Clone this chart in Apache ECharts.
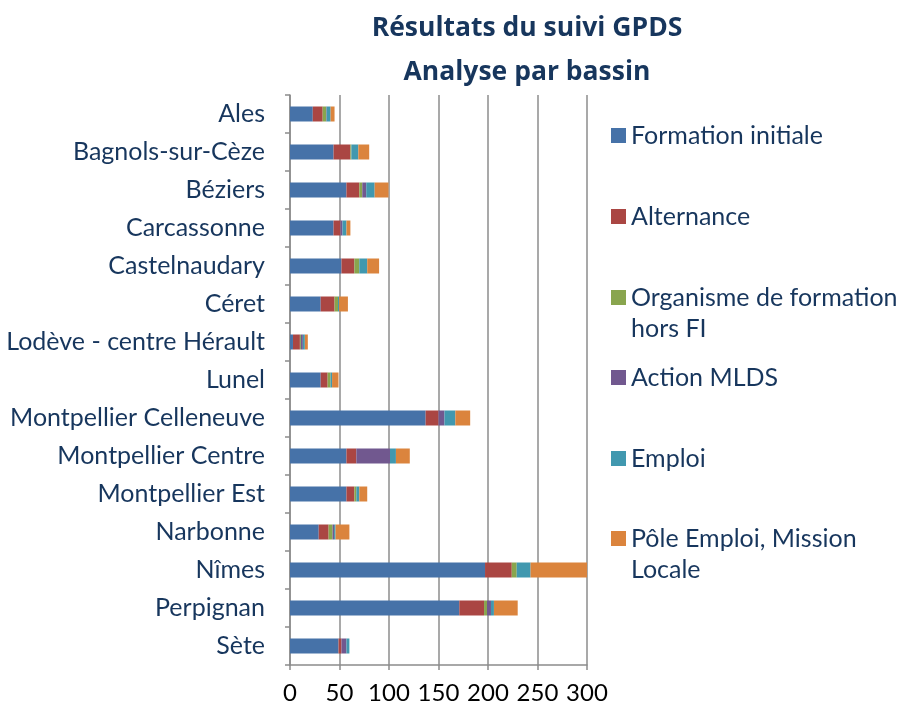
<!DOCTYPE html>
<html>
<head>
<meta charset="utf-8">
<script src="https://cdn.jsdelivr.net/npm/echarts@6/dist/echarts.min.js"></script>
<style>
html, body { margin: 0; padding: 0; background: #fff; }
#chart { width: 901px; height: 708px; }
</style>
</head>
<body>
<div id="chart"></div>
<script>
// bassins, top to bottom
var categories = ['Ales', 'Bagnols-sur-Cèze', 'Béziers', 'Carcassonne', 'Castelnaudary', 'Céret',
  'Lodève - centre Hérault', 'Lunel', 'Montpellier Celleneuve', 'Montpellier Centre',
  'Montpellier Est', 'Narbonne', 'Nîmes', 'Perpignan', 'Sète'];

var formationInitiale = [23, 44, 57, 44, 52, 31, 3, 31, 137, 57, 57, 29, 197, 171, 49];
var alternance        = [10, 17, 13, 7, 13, 14, 7, 7, 13, 10, 8, 10, 27, 25, 3];
var organismeHorsFI   = [3.5, 1, 3, 0, 5, 3.5, 1, 3, 0, 0, 2, 4, 5, 3, 0];
var actionMLDS        = [0.5, 0, 4, 2, 0, 0, 2, 0, 6, 34, 0, 1.5, 0, 4, 5];
var emploi            = [4, 7, 8.5, 4, 8, 1, 2, 1.5, 11, 6, 3, 1.5, 14, 3, 3];
var poleEmploi        = [4, 11, 14, 4, 12, 9, 3, 6.5, 15, 14, 8, 14, 57, 24, 0];

var xTicks = { min: 0, max: 300, interval: 50 };

var seriesNames = ['Formation initiale', 'Alternance', 'Organisme de formation hors FI',
  'Action MLDS', 'Emploi', 'Pôle Emploi, Mission Locale'];
var seriesData = [formationInitiale, alternance, organismeHorsFI, actionMLDS, emploi, poleEmploi];
var colors = ['#4672A8', '#AA4643', '#89A54E', '#71588F', '#4198AF', '#DB843D'];

// legend text as wrapped in the original
var legendText = {
  'Organisme de formation hors FI': '\nOrganisme de formation\nhors FI',
  'Pôle Emploi, Mission Locale': '\nPôle Emploi, Mission\nLocale'
};
var legendTops = [120, 201, 251, 362, 443, 492];

var navy = '#17365D';
var font = 'Lato';
var gray = '#8c8c8c';

var chart = echarts.init(document.getElementById('chart'), null, { renderer: 'canvas' });

var legends = seriesNames.map(function (name, i) {
  return {
    data: [name],
    orient: 'vertical',
    left: 611,
    top: legendTops[i],
    padding: 0,
    icon: 'rect',
    itemWidth: 15,
    itemHeight: 15,
    selectedMode: false,
    formatter: function (n) { return legendText[n] || n; },
    textStyle: { color: navy, fontFamily: font, fontSize: 25, lineHeight: 31 }
  };
});

var series = seriesNames.map(function (name, i) {
  return {
    name: name,
    type: 'bar',
    stack: 'total',
    barWidth: 15,
    data: seriesData[i],
    itemStyle: { color: colors[i] }
  };
});

chart.setOption({
  animation: false,
  color: colors,
  title: {
    text: 'Résultats du suivi GPDS\nAnalyse par bassin',
    left: 527,
    top: 6,
    padding: 0,
    textAlign: 'center',
    textStyle: { color: navy, fontFamily: 'Open Sans', fontSize: 26.5, fontWeight: 'bold', lineHeight: 44 }
  },
  legend: legends,
  grid: { left: 290, right: 314, top: 95, bottom: 43 },
  xAxis: {
    type: 'value',
    min: xTicks.min,
    max: xTicks.max,
    interval: xTicks.interval,
    axisLine: { show: true, lineStyle: { color: gray, width: 1.5 } },
    axisTick: { show: true, length: 5, lineStyle: { color: gray, width: 1.5 } },
    splitLine: { show: true, lineStyle: { color: gray, width: 1.5 } },
    axisLabel: { color: '#000', fontFamily: font, fontSize: 24, margin: 16 }
  },
  yAxis: {
    type: 'category',
    inverse: true,
    data: categories,
    axisLine: { show: true, lineStyle: { color: gray, width: 1.5 } },
    axisTick: { show: true, length: 5, lineStyle: { color: gray, width: 1.5 } },
    axisLabel: { color: navy, fontFamily: font, fontSize: 25, margin: 25 }
  },
  series: series
});
</script>
</body>
</html>
